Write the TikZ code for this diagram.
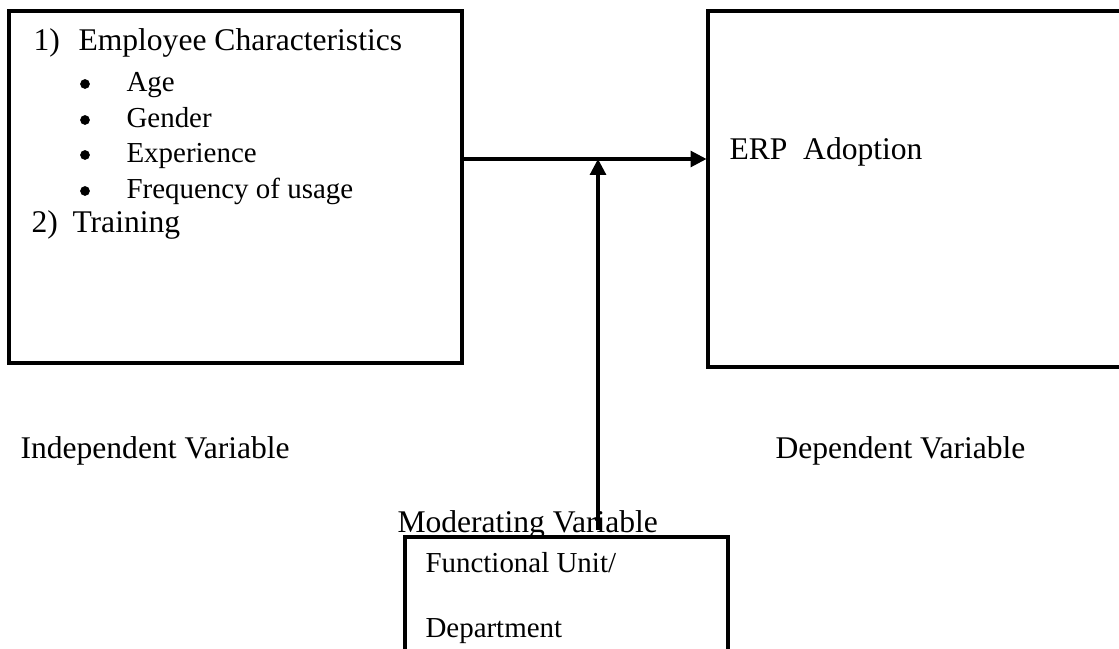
\documentclass[tikz,border=0pt]{standalone}
\usepackage{fontspec}
\setmainfont{Liberation Serif}
\usetikzlibrary{arrows.meta,fit}

\tikzset{
  box/.style={draw, line width=1.15pt, inner sep=0pt, fill=white},
  txt/.style={anchor=base west, inner sep=0pt, font=\fontsize{12}{14}\selectfont},
  small/.style={txt, font=\fontsize{11}{13}\selectfont},
  dot/.style={circle, fill, inner sep=0pt, minimum size=3.7pt},
  link/.style={line width=1.15pt, -{Triangle[length=6pt,width=6pt]}}
}

\begin{document}
\begin{tikzpicture}[x=0.38pt, y=-0.38pt]
  \useasboundingbox (0,0) rectangle (1119,649);

  % boxes
  \node[box, fit={(9,11) (462,363)}] (indep) {};
  \node[box, fit={(708,11) (1140,367)}] (dep) {};

  % independent variables
  \node[txt] (n1) at (33,51) {1)};
  \node[txt] (emp) at (78,51) {Employee Characteristics};
  \foreach \y/\name/\word in {92/age/Age, 128/gender/Gender, 163/exp/Experience, 199/freq/Frequency of usage} {
    \node[dot] (b-\name) at (85,\y-8) {};
    \node[small] (\name) at (126,\y) {\word};
  }
  \node[txt] (n2) at (31,233) {2)};
  \node[txt] (train) at (72,233) {Training};

  % dependent variable
  \node[txt] (erp) at (729,160) {ERP\ \ Adoption};

  % captions
  \node[txt] (indeplabel) at (20,459) {Independent Variable};
  \node[txt] (deplabel) at (775,459) {Dependent Variable};
  \node[txt] (modlabel) at (397,533) {Moderating Variable};

  % moderator
  \node[box, fit={(405,537) (728,680)}] (mod) {};
  \node[small] (unit) at (425,573) {Functional Unit/};
  \node[small] (dept) at (425,638) {Department};

  % arrows
  \coordinate (junction) at (598,159);
  \coordinate (modtail) at (598,530);
  \draw[link] (indep.east |- junction) -- (dep.west |- junction);
  \draw[link] (modtail) -- (junction);
\end{tikzpicture}
\end{document}
